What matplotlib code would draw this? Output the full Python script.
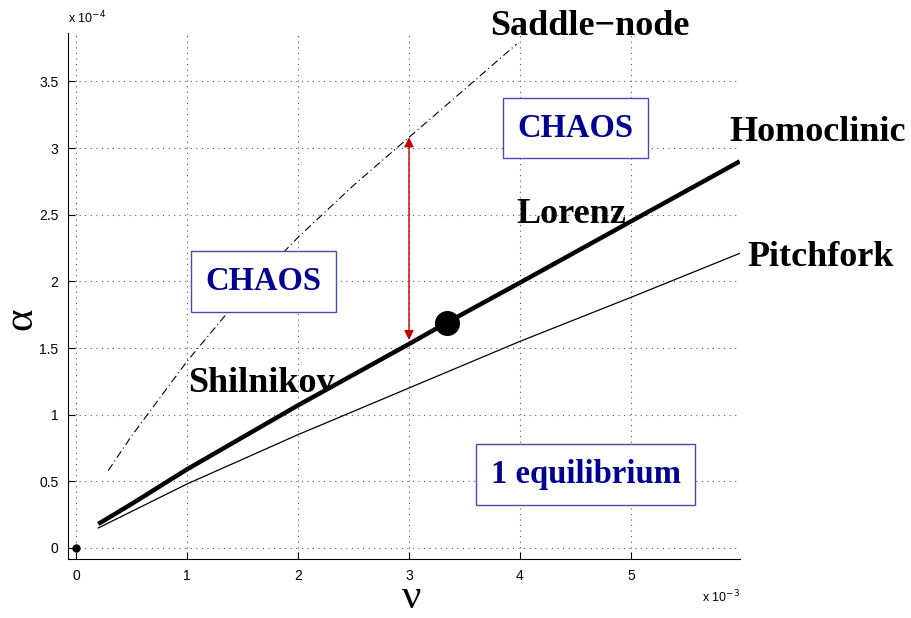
import numpy as np
import matplotlib.pyplot as plt

# nu in units of 1e-3, alpha in units of 1e-4
homo_nu = [0.2, 0.5, 1.0, 2.0, 3.0, 3.34, 4.0, 5.0, 5.98]
homo_alpha = [0.18, 0.33, 0.59, 1.07, 1.53, 1.69, 1.99, 2.45, 2.90]

pitch_nu = [0.2, 1.0, 2.0, 3.0, 4.0, 5.0, 5.98]
pitch_alpha = [0.15, 0.48, 0.85, 1.20, 1.55, 1.88, 2.21]

saddle_nu = [0.29, 0.5, 0.75, 1.0, 1.5, 2.0, 2.5, 3.0, 3.5, 3.97]
saddle_alpha = [0.58, 0.84, 1.12, 1.40, 1.90, 2.33, 2.72, 3.08, 3.44, 3.78]

lorenz_pt = (3.34, 1.69)
origin_pt = (0.0, 0.0)
arrow_nu = 3.0
arrow_alpha = (1.56, 3.08)

xticks = [0, 1, 2, 3, 4, 5]
yticks = [0, 0.5, 1, 1.5, 2, 2.5, 3, 3.5]
ytick_labels = ['0', '0.5', '1', '1.5', '2', '2.5', '3', '3.5']

curve_labels = [('Saddle\u2212node', 3.73, 3.85), ('Homoclinic', 5.89, 3.05),
                ('Pitchfork', 6.05, 2.115), ('Lorenz', 3.97, 2.44),
                ('Shilnikov', 1.01, 1.17)]
region_labels = [('CHAOS', 4.50, 3.15), ('CHAOS', 1.69, 2.0),
                 ('1 equilibrium', 4.59, 0.55)]

fig = plt.figure(figsize=(9.12, 6.18), dpi=100)
ax = fig.add_axes([0.0746, 0.0955, 0.7365, 0.8511])

ax.plot(saddle_nu, saddle_alpha, color='k', lw=0.8, dashes=(7, 3, 1, 3))
ax.plot(pitch_nu, pitch_alpha, color='k', lw=0.9)
ax.plot(homo_nu, homo_alpha, color='k', lw=3.2, solid_capstyle='butt')
ax.plot(*lorenz_pt, 'o', color='k', ms=17)
ax.plot(*origin_pt, 'o', color='k', ms=5, clip_on=False)

ax.annotate('', xy=(arrow_nu, arrow_alpha[0]), xytext=(arrow_nu, arrow_alpha[1]),
            arrowprops=dict(arrowstyle='<|-|>', color='#c00000', lw=1.0,
                            mutation_scale=14, shrinkA=0, shrinkB=0))

for txt, x, y in curve_labels:
    ax.text(x, y, txt, family='Liberation Serif', weight='bold', fontsize=26,
            va='baseline', ha='left', clip_on=False)

for txt, x, y in region_labels:
    ax.text(x, y, txt, family='Liberation Serif', weight='bold', fontsize=23.5,
            color='#000090', ha='center', va='center',
            bbox=dict(boxstyle='square,pad=0.45', fc='white', ec='#4a4ab4', lw=1.0))

ax.set_xlim(-0.072, 5.98)
ax.set_ylim(-0.0825, 3.863)
ax.set_xticks(xticks)
ax.set_xticklabels([str(t) for t in xticks])
ax.set_yticks(yticks)
ax.set_yticklabels(ytick_labels)
ax.tick_params(direction='in', length=5, labelsize=10, pad=7)
for lab in ax.get_xticklabels() + ax.get_yticklabels():
    lab.set_family('Liberation Sans')
ax.spines['top'].set_visible(False)
ax.spines['right'].set_visible(False)
ax.grid(True, color='0.35', linestyle=(0, (1, 4)), lw=0.8)
ax.set_axisbelow(True)

# axis labels placed on the figure so they sit clear of the tick labels
fig.text(412 / 912, 1 - 617 / 618, '\u03bd', family='Liberation Serif',
         fontsize=31, ha='center', va='bottom')
fig.text(40 / 912, 1 - 319 / 618, '\u03b1', family='Liberation Serif',
         fontsize=31, ha='right', va='center', rotation=90)

fig.text(68 / 912, 1 - 18 / 618, 'x 10$^{-4}$', family='Liberation Sans',
         fontsize=9, ha='left', va='center')
fig.text(740 / 912, 1 - 597 / 618, 'x 10$^{-3}$', family='Liberation Sans',
         fontsize=9, ha='right', va='center')

fig.savefig('out.png', dpi=100)
